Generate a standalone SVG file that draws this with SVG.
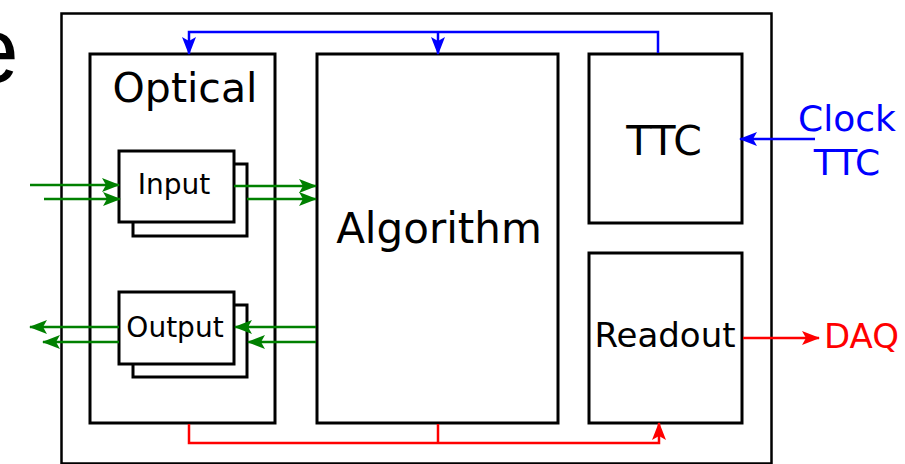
<svg xmlns="http://www.w3.org/2000/svg" width="905" height="464" viewBox="0 0 905 464">
<style>
.box{fill:#fff;stroke:#000;stroke-width:3}
.outer{fill:#fff;stroke:#000;stroke-width:2.5}
.lbl{font-family:"DejaVu Sans",sans-serif;fill:#000;text-anchor:middle}
.g{fill:none;stroke:#008000;stroke-width:2.5}
.b{fill:none;stroke:#0000ff;stroke-width:2.5}
.r{fill:none;stroke:#ff0000;stroke-width:2.5}
</style>
<defs>
<marker id="ag" markerUnits="userSpaceOnUse" viewBox="0 0 18 14" markerWidth="18" markerHeight="14" refX="17" refY="7" orient="auto"><path d="M0,0 L18,7 L0,14 L4,7 z" fill="#008000"/></marker>
<marker id="ab" markerUnits="userSpaceOnUse" viewBox="0 0 18 14" markerWidth="18" markerHeight="14" refX="17" refY="7" orient="auto"><path d="M0,0 L18,7 L0,14 L4,7 z" fill="#0000ff"/></marker>
<marker id="ar" markerUnits="userSpaceOnUse" viewBox="0 0 18 14" markerWidth="18" markerHeight="14" refX="17" refY="7" orient="auto"><path d="M0,0 L18,7 L0,14 L4,7 z" fill="#ff0000"/></marker>
</defs>
<rect width="905" height="464" fill="#fff"/>
<text x="-33" y="82" font-family="Liberation Sans, Arial, sans-serif" font-size="93" fill="#000">e</text>
<g id="board"><rect class="outer" x="61.5" y="13.5" width="710" height="450"/></g>
<g id="optical"><rect class="box" x="90" y="54" width="185" height="369"/><text class="lbl" x="185" y="102" font-size="41">Optical</text></g>
<g id="input"><rect class="box" x="133" y="164" width="114" height="72"/><rect class="box" x="119" y="151" width="115" height="71"/><text class="lbl" x="174" y="194" font-size="28">Input</text></g>
<g id="output"><rect class="box" x="133" y="305" width="114" height="72"/><rect class="box" x="119" y="292" width="115" height="72"/><text class="lbl" x="175" y="337" font-size="28">Output</text></g>
<g id="algorithm"><rect class="box" x="317" y="54" width="241" height="369"/><text class="lbl" x="439" y="243" font-size="42">Algorithm</text></g>
<g id="ttc"><rect class="box" x="589" y="54" width="153" height="169"/><text class="lbl" x="664" y="155" font-size="41">TTC</text></g>
<g id="readout"><rect class="box" x="589" y="253" width="153" height="170"/><text class="lbl" x="665" y="347" font-size="34">Readout</text></g>
<g id="connectors">
<line class="g" x1="30" y1="185" x2="119" y2="185" marker-end="url(#ag)"/>
<line class="g" x1="44" y1="199" x2="120" y2="199" marker-end="url(#ag)"/>
<line class="g" x1="234" y1="186" x2="316" y2="186" marker-end="url(#ag)"/>
<line class="g" x1="247" y1="199" x2="316" y2="199" marker-end="url(#ag)"/>
<line class="g" x1="119" y1="327" x2="30" y2="327" marker-end="url(#ag)"/>
<line class="g" x1="119" y1="342" x2="43" y2="342" marker-end="url(#ag)"/>
<line class="g" x1="316" y1="327" x2="235" y2="327" marker-end="url(#ag)"/>
<line class="g" x1="316" y1="342" x2="248" y2="342" marker-end="url(#ag)"/>
<path class="b" d="M658,53 V32 H189 V54" marker-end="url(#ab)"/>
<path class="b" d="M438,32 V54" marker-end="url(#ab)"/>
<line class="b" x1="815" y1="139" x2="740" y2="139" marker-end="url(#ab)"/>
<path class="r" d="M189,424 V443 H659 V423" marker-end="url(#ar)"/>
<path class="r" d="M438,424 V443"/>
<line class="r" x1="743" y1="338" x2="819" y2="338" marker-end="url(#ar)"/>
</g>
<text x="847" y="131" font-family="DejaVu Sans, sans-serif" font-size="36" fill="#0000ff" text-anchor="middle">Clock</text>
<text x="847" y="175" font-family="DejaVu Sans, sans-serif" font-size="36" fill="#0000ff" text-anchor="middle">TTC</text>
<text x="824" y="348" font-family="DejaVu Sans, sans-serif" font-size="34" fill="#ff0000">DAQ</text>
</svg>
